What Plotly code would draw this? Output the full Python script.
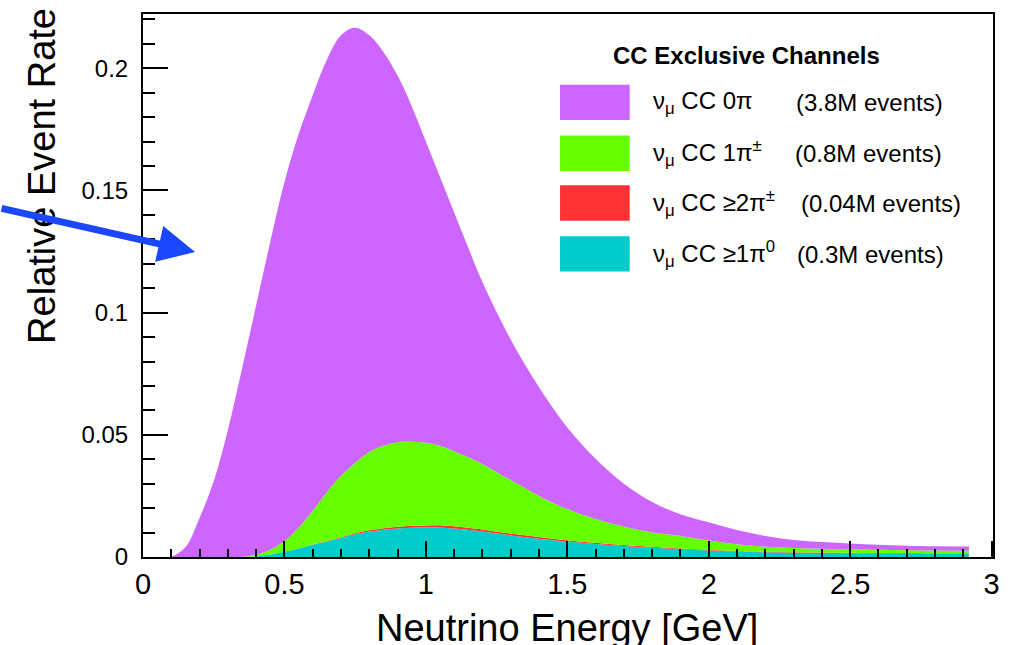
import plotly.graph_objects as go

# Neutrino energy bin centres [GeV]
energy = [0.10, 0.15, 0.20, 0.25, 0.30, 0.35, 0.40, 0.45, 0.50, 0.55,
          0.60, 0.65, 0.70, 0.75, 0.80, 0.85, 0.90, 0.95, 1.00, 1.05,
          1.10, 1.15, 1.20, 1.30, 1.40, 1.50, 1.60, 1.70, 1.80, 1.90,
          2.00, 2.10, 2.20, 2.30, 2.40, 2.50, 2.60, 2.70, 2.80, 2.92]

# Relative event rate per exclusive channel (stacked bottom to top: 1pi0, >=2pi+-, 1pi+-, 0pi)
rate_1pi0 = [0, 0, 0, 0, 0, 0, 0.0002, 0.0010, 0.0022, 0.0035,
             0.0050, 0.0063, 0.0078, 0.0093, 0.0104, 0.0112, 0.0117, 0.0120, 0.0121, 0.0121,
             0.0117, 0.0111, 0.0104, 0.0088, 0.0075, 0.0063, 0.0053, 0.0045, 0.0038, 0.0032,
             0.0027, 0.0023, 0.0019, 0.0017, 0.0016, 0.0015, 0.0014, 0.0014, 0.0013, 0.0013]

rate_2pipm = [0, 0, 0, 0, 0, 0, 0, 0, 0, 0,
              0.0001, 0.0002, 0.0003, 0.0004, 0.0005, 0.0006, 0.0007, 0.0008, 0.0008, 0.0009,
              0.0009, 0.0009, 0.0009, 0.0008, 0.0007, 0.0006, 0.0005, 0.0004, 0.0004, 0.0003,
              0.0003, 0.0002, 0.0002, 0.0002, 0.0002, 0.0002, 0.0002, 0.0002, 0.0002, 0.0002]

rate_1pipm = [0, 0, 0, 0, 0, 0, 0.0008, 0.0020, 0.0043, 0.0085,
              0.0137, 0.0200, 0.0251, 0.0288, 0.0321, 0.0337, 0.0346, 0.0344, 0.0339, 0.0325,
              0.0307, 0.0288, 0.0267, 0.0219, 0.0168, 0.0127, 0.0097, 0.0076, 0.0058, 0.0051,
              0.0038, 0.0027, 0.0021, 0.0018, 0.0016, 0.0015, 0.0014, 0.0012, 0.0012, 0.0011]

rate_0pi = [0, 0.0040, 0.0160, 0.0310, 0.0520, 0.0770, 0.1020, 0.1260, 0.1470, 0.1610,
            0.1702, 0.1770, 0.1803, 0.1781, 0.1705, 0.1612, 0.1500, 0.1373, 0.1232, 0.1100,
            0.0977, 0.0857, 0.0745, 0.0575, 0.0445, 0.0334, 0.0247, 0.0175, 0.0125, 0.0089,
            0.0074, 0.0058, 0.0044, 0.0033, 0.0027, 0.0023, 0.0020, 0.0018, 0.0017, 0.0017]

channel_names = ["ν<sub>μ</sub> CC 0π", "ν<sub>μ</sub> CC 1π<sup>±</sup>",
                 "ν<sub>μ</sub> CC ≥2π<sup>±</sup>", "ν<sub>μ</sub> CC ≥1π<sup>0</sup>"]
channel_counts = ["(3.8M events)", "(0.8M events)", "(0.04M events)", "(0.3M events)"]

COL_0PI = "#CC66FF"
COL_1PIPM = "#66FF00"
COL_2PIPM = "#FF3333"
COL_1PI0 = "#00CCCC"

W, H = 1012, 645
ML, MR, MT, MB = 143, 15, 12, 88
PW, PH = W - ML - MR, H - MT - MB
FONT = "Liberation Sans, Arial, Helvetica, sans-serif"


def px(x):
    return (x - ML) / PW


def py(y):
    return (H - MB - y) / PH


fig = go.Figure()
stack = [(rate_1pi0, COL_1PI0), (rate_2pipm, COL_2PIPM),
         (rate_1pipm, COL_1PIPM), (rate_0pi, COL_0PI)]
for vals, col in stack:
    fig.add_trace(go.Scatter(
        x=energy, y=vals, stackgroup="cc", mode="lines",
        line=dict(width=0, shape="spline", smoothing=1.0, color=col),
        fillcolor=col, showlegend=False, hoverinfo="skip"))

# Legend panel: title, colour boxes and labels
shapes = []
annotations = [dict(text="<b>CC Exclusive Channels</b>", x=px(749), y=py(54),
                    xref="paper", yref="paper", showarrow=False,
                    font=dict(family=FONT, size=24, color="black"),
                    xanchor="center", yanchor="middle")]
box_tops = [83, 134, 184, 235]
box_cols = [COL_0PI, COL_1PIPM, COL_2PIPM, COL_1PI0]
count_x = [797, 796, 802, 798]
for top, col, name, cnt, cx in zip(box_tops, box_cols, channel_names, channel_counts, count_x):
    shapes.append(dict(type="rect", xref="paper", yref="paper",
                       x0=px(562), x1=px(632), y0=py(top + 35.5), y1=py(top),
                       fillcolor=col, line=dict(width=0), layer="above"))
    ymid = py(top + 18)
    annotations.append(dict(text=name, x=px(653), y=ymid, xref="paper", yref="paper",
                            showarrow=False, xanchor="left", yanchor="middle",
                            font=dict(family=FONT, size=24, color="black")))
    annotations.append(dict(text=cnt, x=px(cx), y=ymid, xref="paper", yref="paper",
                            showarrow=False, xanchor="left", yanchor="middle",
                            font=dict(family=FONT, size=24, color="black")))

# Axis titles
annotations.append(dict(text="Relative Event Rate", x=px(42), y=py(174),
                        xref="paper", yref="paper", showarrow=False, textangle=-90,
                        xanchor="center", yanchor="middle",
                        font=dict(family=FONT, size=38, color="black")))
annotations.append(dict(text="Neutrino Energy [GeV]", x=px(569), y=py(628),
                        xref="paper", yref="paper", showarrow=False,
                        xanchor="center", yanchor="middle",
                        font=dict(family=FONT, size=38, color="black")))

# Pointer arrow on the rising edge
annotations.append(dict(text="", x=0.184, y=0.1248, xref="x", yref="y",
                        ax=-195, ay=-44, axref="pixel", ayref="pixel",
                        showarrow=True, arrowhead=2, arrowsize=1.05,
                        arrowwidth=7, arrowcolor="#1A47FF"))

fig.update_layout(
    width=W, height=H,
    margin=dict(l=ML, r=MR, t=MT, b=MB, pad=0),
    paper_bgcolor="white", plot_bgcolor="white",
    font=dict(family=FONT, color="black"),
    shapes=shapes, annotations=annotations,
    showlegend=False,
    xaxis=dict(range=[0, 3.005], tick0=0, dtick=0.5, ticks="inside", ticklen=16,
               tickwidth=2, tickcolor="black",
               minor=dict(dtick=0.1, ticks="inside", ticklen=8, tickwidth=2, tickcolor="black"),
               showline=True, linewidth=2, linecolor="black", mirror=True,
               showgrid=False, zeroline=False, tickfont=dict(family=FONT, size=29)),
    yaxis=dict(range=[0, 0.2222], tick0=0, dtick=0.05, ticks="inside", ticklen=25,
               tickwidth=2, tickcolor="black",
               minor=dict(dtick=0.01, ticks="inside", ticklen=12, tickwidth=2, tickcolor="black"),
               showline=True, linewidth=2, linecolor="black", mirror=True,
               showgrid=False, zeroline=False, ticklabelstandoff=8,
               tickfont=dict(family=FONT, size=24)),
)

fig.write_html("out.html")
